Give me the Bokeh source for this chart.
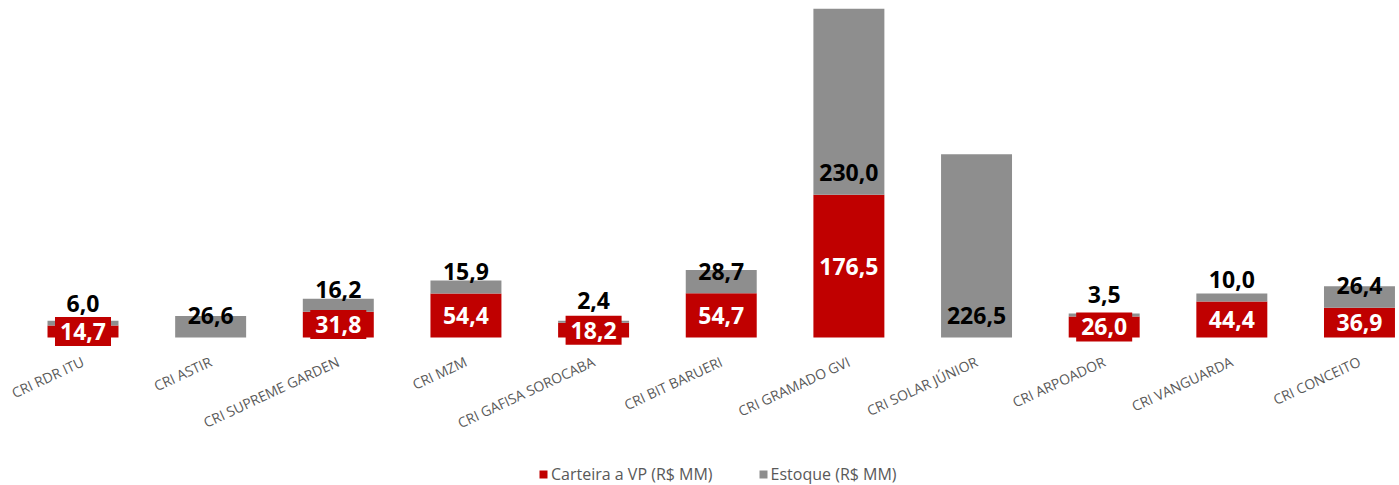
from bokeh.plotting import figure
from bokeh.layouts import column
from bokeh.models import ColumnDataSource, Range1d, FixedTicker, Legend, LegendItem
from bokeh.core.properties import value
from bokeh.embed import file_html
from bokeh.resources import INLINE

categories = ["CRI RDR ITU", "CRI ASTIR", "CRI SUPREME GARDEN", "CRI MZM",
              "CRI GAFISA SOROCABA", "CRI BIT BARUERI", "CRI GRAMADO GVI",
              "CRI SOLAR JÚNIOR", "CRI ARPOADOR", "CRI VANGUARDA", "CRI CONCEITO"]
carteira = [14.7, 0.0, 31.8, 54.4, 18.2, 54.7, 176.5, 0.0, 26.0, 44.4, 36.9]
estoque = [6.0, 26.6, 16.2, 15.9, 2.4, 28.7, 230.0, 226.5, 3.5, 10.0, 26.4]
series_names = ["Carteira a VP (R$ MM)", "Estoque (R$ MM)"]

RED = "#C00000"
GRAY = "#8E8E8E"
FONT = "Open Sans"

def fmt(v):
    return f"{v:.1f}".replace(".", ",")

xs = list(range(len(categories)))
totals = [c + e for c, e in zip(carteira, estoque)]
src = ColumnDataSource(dict(x=xs, red=carteira, total=totals,
                            glab=[fmt(v) for v in estoque]))
rx = [x for x, c in zip(xs, carteira) if c > 0]
rc = [c for c in carteira if c > 0]
rsrc = ColumnDataSource(dict(x=rx, y=[c / 2 for c in rc], lab=[fmt(c) for c in rc]))

W = 1396
p = figure(width=W, height=463, output_backend="svg", toolbar_location=None,
           x_range=Range1d(-0.6463, 10.290), y_range=Range1d(-13.6, max(totals)),
           min_border_left=0, min_border_right=0, min_border_top=8,
           min_border_bottom=115)
p.outline_line_color = None
p.grid.visible = False
p.yaxis.visible = False

bw = 0.556
p.vbar(x="x", top="red", bottom=0, width=bw, source=src,
       fill_color=RED, line_color=None)
p.vbar(x="x", top="total", bottom="red", width=bw, source=src,
       fill_color=GRAY, line_color=None)

# gray (Estoque) labels, floating above base of gray segment
p.text(x="x", y="red", text="glab", source=src, y_offset=-22,
       text_font=value(FONT), text_font_style="bold", text_font_size="23px",
       text_color="#000000", text_align="center", text_baseline="middle")

# red (Carteira) labels with red background box
p.text(x="x", y="y", text="lab", source=rsrc,
       text_font=value(FONT), text_font_style="bold", text_font_size="23px",
       text_color="#FFFFFF", text_align="center", text_baseline="middle",
       background_fill_color=RED, padding=(5, 6))

ax = p.xaxis[0]
ax.ticker = FixedTicker(ticks=xs)
ax.major_label_overrides = {i: c for i, c in enumerate(categories)}
ax.major_label_orientation = 0.436
ax.major_label_text_font = FONT
ax.major_label_text_font_size = "14px"
ax.major_label_text_color = "#595959"
ax.major_label_standoff = 6
ax.axis_line_color = None
ax.major_tick_line_color = None
ax.minor_tick_line_color = None

# legend strip
q = figure(width=W, height=22, output_backend="svg", toolbar_location=None,
           x_range=Range1d(0, 1), y_range=Range1d(0, 1),
           min_border=0, min_border_left=0, min_border_right=0,
           min_border_top=0, min_border_bottom=0)
q.outline_line_color = None
q.grid.visible = False
q.axis.visible = False
# placeholder renderers (out of view) that carry the legend swatches
lr = q.vbar(x=[-10], top=[0], width=0.1, fill_color=RED, line_color=None)
lg = q.vbar(x=[-10], top=[0], width=0.1, fill_color=GRAY, line_color=None)
legend = Legend(items=[LegendItem(label=series_names[0], renderers=[lr]),
                       LegendItem(label=series_names[1], renderers=[lg])],
                orientation="horizontal", location=(538, 0))
legend.label_text_font = FONT
legend.label_text_font_size = "16px"
legend.label_text_color = "#595959"
legend.glyph_width = 10
legend.glyph_height = 10
legend.label_standoff = 3
legend.spacing = 45
legend.padding = 0
legend.margin = 0
legend.label_height = 22
legend.background_fill_alpha = 0
legend.border_line_color = None
q.add_layout(legend, "center")

open("out.html", "w").write(file_html(column(p, q, spacing=0), INLINE))
